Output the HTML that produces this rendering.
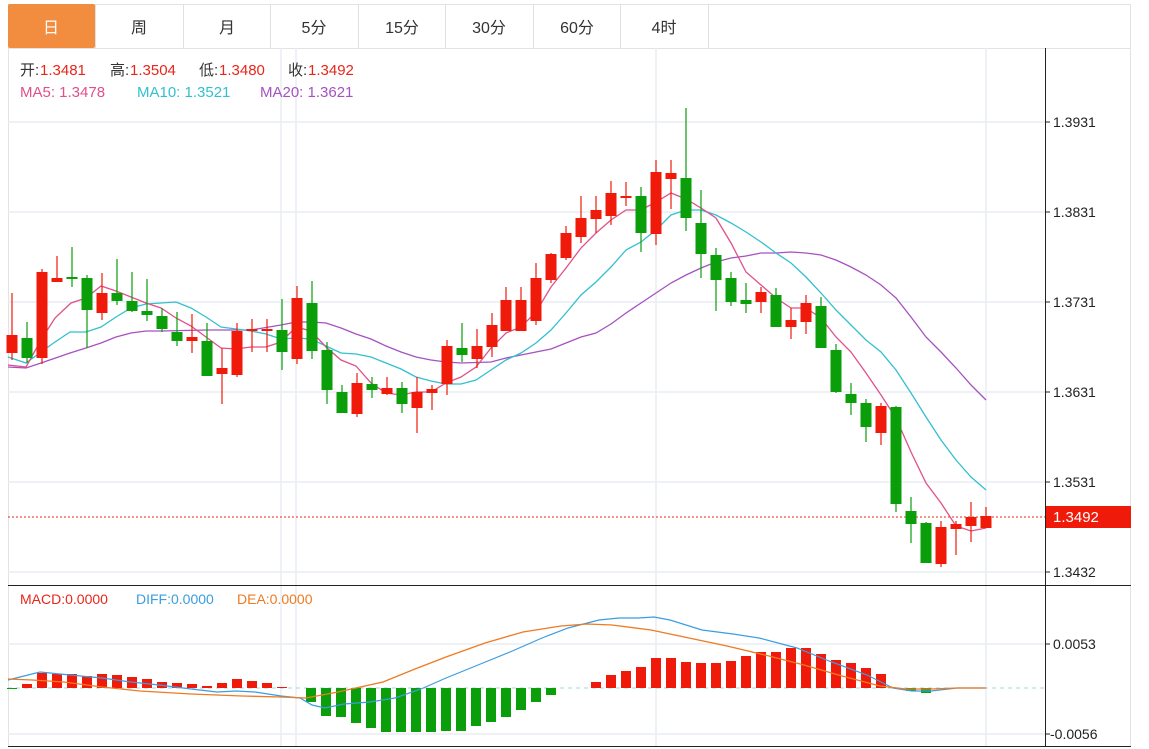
<!DOCTYPE html>
<html><head><meta charset="utf-8"><style>
html,body{margin:0;padding:0;background:#fff;width:1149px;height:749px;overflow:hidden;font-family:"Liberation Sans","Noto Sans CJK SC",sans-serif}
svg{position:absolute;left:0;top:0}
</style></head><body>
<svg width="1149" height="749" xmlns="http://www.w3.org/2000/svg" font-family="Liberation Sans, Noto Sans CJK SC, sans-serif">
<rect x="8.5" y="4.5" width="1122" height="742" fill="none" stroke="#e3e3e3"/>
<line x1="8" y1="48.5" x2="1131" y2="48.5" stroke="#e3e3e3"/>
<rect x="8" y="4" width="87" height="44" fill="#f28c3f" rx="2"/>
<g stroke="#e0e0e0"><line x1="95.5" y1="4" x2="95.5" y2="48"/><line x1="183.5" y1="4" x2="183.5" y2="48"/><line x1="270.5" y1="4" x2="270.5" y2="48"/><line x1="358.5" y1="4" x2="358.5" y2="48"/><line x1="445.5" y1="4" x2="445.5" y2="48"/><line x1="533.5" y1="4" x2="533.5" y2="48"/><line x1="620.5" y1="4" x2="620.5" y2="48"/><line x1="708.5" y1="4" x2="708.5" y2="48"/></g>
<g font-size="16" text-anchor="middle" fill="#333">
<text x="51" y="33" fill="#fff">日</text><text x="139" y="33">周</text><text x="227" y="33">月</text><text x="314" y="33">5分</text><text x="402" y="33">15分</text><text x="489" y="33">30分</text><text x="577" y="33">60分</text><text x="664" y="33">4时</text>
</g>
<g stroke="#e8eef4" stroke-width="1.5">
<line x1="8" y1="122" x2="1045" y2="122"/><line x1="8" y1="212" x2="1045" y2="212"/><line x1="8" y1="302" x2="1045" y2="302"/><line x1="8" y1="392" x2="1045" y2="392"/><line x1="8" y1="482" x2="1045" y2="482"/><line x1="8" y1="572" x2="1045" y2="572"/>
<line x1="8" y1="644" x2="1045" y2="644"/><line x1="8" y1="734" x2="1045" y2="734"/>
<line x1="281" y1="48" x2="281" y2="746"/><line x1="296" y1="48" x2="296" y2="746"/><line x1="656" y1="48" x2="656" y2="746"/><line x1="986" y1="48" x2="986" y2="746"/>
</g>
<line x1="1045.5" y1="48" x2="1045.5" y2="746" stroke="#222"/>
<line x1="8" y1="585.5" x2="1131" y2="585.5" stroke="#222"/>
<line x1="8" y1="746.5" x2="1131" y2="746.5" stroke="#222"/>
<g stroke="#222"><line x1="1045" y1="122" x2="1050" y2="122"/><line x1="1045" y1="212" x2="1050" y2="212"/><line x1="1045" y1="302" x2="1050" y2="302"/><line x1="1045" y1="392" x2="1050" y2="392"/><line x1="1045" y1="482" x2="1050" y2="482"/><line x1="1045" y1="572" x2="1050" y2="572"/><line x1="1045" y1="644" x2="1050" y2="644"/><line x1="1045" y1="734" x2="1050" y2="734"/></g>
<g font-size="14" fill="#222">
<text x="1053" y="127">1.3931</text><text x="1053" y="217">1.3831</text><text x="1053" y="307">1.3731</text><text x="1053" y="397">1.3631</text><text x="1053" y="487">1.3531</text><text x="1053" y="577">1.3432</text>
<text x="1053" y="649">0.0053</text><text x="1050" y="739">-0.0056</text>
</g>
<line x1="8" y1="517" x2="1045" y2="517" stroke="#e8261a" stroke-dasharray="2,2"/>
<rect x="1046" y="506" width="85" height="22" fill="#f01a0a"/>
<text x="1053" y="522" font-size="15" fill="#fff">1.3492</text>
<g font-size="15">
<text y="75" fill="#333"><tspan x="20">开:</tspan><tspan x="110">高:</tspan><tspan x="199">低:</tspan><tspan x="288">收:</tspan></text>
<text y="75" fill="#e8261a"><tspan x="40">1.3481</tspan><tspan x="130">1.3504</tspan><tspan x="219">1.3480</tspan><tspan x="308">1.3492</tspan></text>
<text y="97"><tspan x="20" fill="#e0508a">MA5: 1.3478</tspan><tspan x="137" fill="#33bfd0">MA10: 1.3521</tspan><tspan x="260" fill="#a552c0">MA20: 1.3621</tspan></text>
</g>
<text y="604" font-size="14"><tspan x="20" fill="#e8261a">MACD:0.0000</tspan><tspan x="136" fill="#3b9de0">DIFF:0.0000</tspan><tspan x="237" fill="#ee7a22">DEA:0.0000</tspan></text>
<polyline fill="none" stroke="#a552c0" stroke-width="1.3" points="8,367 26,368 41,363 70,353 86,348 101,343 116,337 131,333 146,331 161,331 206,330 251,330 281,325 296,322 311,322 326,323 341,328 356,334 371,339 386,346 401,352 416,357 431,360 446,362 461,363 491,362 506,358 521,355 536,352 551,349 566,343 581,337 596,333 611,324 626,313 641,303 656,293 671,283 686,275 701,268 716,262 731,258 746,256 761,253 776,253 791,252 806,253 821,255 836,260 851,267 866,275 881,285 896,298 911,317 926,337 941,352 956,368 971,385 986,400"/>
<polyline fill="none" stroke="#33bfd0" stroke-width="1.3" points="8,357 26,363 41,352 55,342 70,332 86,332 101,327 116,317 131,308 146,304 161,303 176,302 191,308 206,317 221,327 236,329 251,331 266,334 281,339 296,338 311,339 326,346 341,353 356,354 371,357 386,363 401,369 416,377 431,381 446,384 461,384 476,380 491,370 506,360 521,353 536,343 551,330 566,313 581,295 596,282 611,267 626,250 641,242 656,230 671,215 686,210 701,210 716,215 731,223 746,232 761,242 776,253 791,263 806,277 821,293 836,310 851,325 866,340 881,352 896,370 911,393 926,417 941,440 956,460 971,477 986,490"/>
<polyline fill="none" stroke="#e0508a" stroke-width="1.3" points="8,365 26,367 41,340 55,318 71,303 86,298 101,286 116,291 131,297 146,303 161,308 176,318 191,326 206,337 221,348 236,349 251,347 266,347 281,342 296,327 311,331 326,347 341,360 356,366 371,383 386,393 401,395 416,392 431,392 446,383 461,377 476,367 491,348 506,333 521,327 536,312 551,287 566,268 581,248 596,233 611,220 626,210 641,210 656,202 671,193 686,199 701,208 716,218 731,243 746,272 761,285 776,298 791,308 806,308 821,318 836,337 851,352 866,373 881,395 896,418 911,452 926,483 941,503 956,526 971,531 986,528"/>
<g fill="#f01a0a" stroke="#f01a0a">
<path fill="none" stroke-width="1.2" d="M12 293V360M42 269V364M57 256V282M102 273V320M192 314V353M222 348V404M237 323V377M252 319V352M267 319V352M297 286V364M357 373V417M387 377V395M417 377V433M432 385V410M447 340V395M477 329V368M492 313V357M506 287V331M521 287V331M536 263V325M551 253V283M566 226V260M581 196V243M596 196V233M611 181V225M626 182V206M656 160V245M671 160V209M761 287V313M791 308V339M806 295V334M881 403V445M941 521V567M956 521V555M971 502V542M986 507V528"/>
<g stroke="none">
<rect x="6.5" y="335" width="11" height="18"/><rect x="36.5" y="272" width="11" height="86"/><rect x="51.5" y="278" width="11" height="4"/><rect x="96.5" y="293" width="11" height="20"/><rect x="186.5" y="337" width="11" height="4"/><rect x="216.5" y="368" width="11" height="6"/><rect x="231.5" y="331" width="11" height="44"/><rect x="246.5" y="329" width="11" height="2"/><rect x="261.5" y="329" width="11" height="2"/><rect x="291.5" y="298" width="11" height="61"/><rect x="351.5" y="383" width="11" height="31"/><rect x="381.5" y="388" width="11" height="6"/><rect x="411.5" y="392" width="11" height="16"/><rect x="426.5" y="389" width="11" height="4"/><rect x="441.5" y="346" width="11" height="38"/><rect x="471.5" y="346" width="11" height="13"/><rect x="486.5" y="325" width="11" height="22"/><rect x="500.5" y="300" width="11" height="31"/><rect x="515.5" y="300" width="11" height="31"/><rect x="530.5" y="278" width="11" height="43"/><rect x="545.5" y="254" width="11" height="26"/><rect x="560.5" y="233" width="11" height="25"/><rect x="575.5" y="218" width="11" height="19"/><rect x="590.5" y="210" width="11" height="9"/><rect x="605.5" y="193" width="11" height="23"/><rect x="620.5" y="196" width="11" height="2"/><rect x="650.5" y="172" width="11" height="62"/><rect x="665.5" y="173" width="11" height="6"/><rect x="755.5" y="292" width="11" height="10"/><rect x="785.5" y="320" width="11" height="7"/><rect x="800.5" y="303" width="11" height="19"/><rect x="875.5" y="406" width="11" height="27"/><rect x="935.5" y="527" width="11" height="37"/><rect x="950.5" y="524" width="11" height="5"/><rect x="965.5" y="517" width="11" height="9"/><rect x="980.5" y="516" width="11" height="12"/>
</g></g>
<g fill="#0a9e0a" stroke="#0a9e0a">
<path fill="none" stroke-width="1.2" d="M27 322V363M72 247V287M87 275V348M117 259V305M132 272V312M147 279V321M162 308V332M177 312V346M207 323V376M282 299V370M312 281V359M327 342V404M342 385V413M372 377V398M402 382V413M462 323V362M641 187V252M686 108V231M701 190V278M716 248V311M731 272V306M746 283V313M776 288V327M821 297V348M836 344V393M851 383V415M866 399V442M896 406V512M911 497V543M926 522V563"/>
<g stroke="none">
<rect x="21.5" y="338" width="11" height="20"/><rect x="66.5" y="277" width="11" height="2"/><rect x="81.5" y="278" width="11" height="32"/><rect x="111.5" y="293" width="11" height="8"/><rect x="126.5" y="301" width="11" height="10"/><rect x="141.5" y="311" width="11" height="4"/><rect x="156.5" y="316" width="11" height="13"/><rect x="171.5" y="332" width="11" height="9"/><rect x="201.5" y="341" width="11" height="35"/><rect x="276.5" y="330" width="11" height="22"/><rect x="306.5" y="303" width="11" height="48"/><rect x="321.5" y="350" width="11" height="40"/><rect x="336.5" y="392" width="11" height="21"/><rect x="366.5" y="384" width="11" height="6"/><rect x="396.5" y="388" width="11" height="16"/><rect x="456.5" y="348" width="11" height="7"/><rect x="635.5" y="196" width="11" height="37"/><rect x="680.5" y="178" width="11" height="40"/><rect x="695.5" y="223" width="11" height="31"/><rect x="710.5" y="255" width="11" height="25"/><rect x="725.5" y="278" width="11" height="24"/><rect x="740.5" y="300" width="11" height="4"/><rect x="770.5" y="295" width="11" height="32"/><rect x="815.5" y="306" width="11" height="42"/><rect x="830.5" y="350" width="11" height="42"/><rect x="845.5" y="394" width="11" height="9"/><rect x="860.5" y="403" width="11" height="24"/><rect x="890.5" y="407" width="11" height="97"/><rect x="905.5" y="511" width="11" height="13"/><rect x="920.5" y="523" width="11" height="40"/>
</g></g>
<line x1="8" y1="688" x2="1045" y2="688" stroke="#9fd7e0" stroke-dasharray="4,4"/>
<g fill="#f01a0a">
<rect x="22" y="684" width="10" height="4"/><rect x="37" y="673" width="10" height="15"/><rect x="52" y="674" width="10" height="14"/><rect x="67" y="674" width="10" height="14"/><rect x="82" y="676" width="10" height="12"/><rect x="97" y="674" width="10" height="14"/><rect x="112" y="675" width="10" height="13"/><rect x="127" y="677" width="10" height="11"/><rect x="142" y="679" width="10" height="9"/><rect x="157" y="682" width="10" height="6"/><rect x="172" y="683" width="10" height="5"/><rect x="187" y="684" width="10" height="4"/><rect x="202" y="686" width="10" height="2"/><rect x="217" y="683" width="10" height="5"/><rect x="232" y="679" width="10" height="9"/><rect x="247" y="681" width="10" height="7"/><rect x="262" y="683" width="10" height="5"/><rect x="277" y="687" width="10" height="1"/>
<rect x="591" y="682" width="10" height="6"/><rect x="606" y="675" width="10" height="13"/><rect x="621" y="671" width="10" height="17"/><rect x="636" y="667" width="10" height="21"/><rect x="651" y="658" width="10" height="30"/><rect x="666" y="658" width="10" height="30"/><rect x="681" y="662" width="10" height="26"/><rect x="696" y="663" width="10" height="25"/><rect x="711" y="663" width="10" height="25"/><rect x="726" y="661" width="10" height="27"/><rect x="741" y="656" width="10" height="32"/><rect x="756" y="652" width="10" height="36"/><rect x="771" y="652" width="10" height="36"/><rect x="786" y="648" width="10" height="40"/><rect x="801" y="648" width="10" height="40"/><rect x="816" y="654" width="10" height="34"/><rect x="831" y="660" width="10" height="28"/><rect x="846" y="663" width="10" height="25"/><rect x="861" y="668" width="10" height="20"/><rect x="876" y="674" width="10" height="14"/>
</g>
<g fill="#0a9e0a">
<rect x="7" y="688" width="10" height="1"/>
<rect x="306" y="688" width="10" height="14"/><rect x="321" y="688" width="10" height="28"/><rect x="336" y="688" width="10" height="29"/><rect x="351" y="688" width="10" height="35"/><rect x="366" y="688" width="10" height="40"/><rect x="381" y="688" width="10" height="44"/><rect x="396" y="688" width="10" height="44"/><rect x="411" y="688" width="10" height="44"/><rect x="426" y="688" width="10" height="44"/><rect x="441" y="688" width="10" height="43"/><rect x="456" y="688" width="10" height="43"/><rect x="471" y="688" width="10" height="38"/><rect x="486" y="688" width="10" height="34"/><rect x="501" y="688" width="10" height="29"/><rect x="516" y="688" width="10" height="22"/><rect x="531" y="688" width="10" height="14"/><rect x="546" y="688" width="10" height="7"/>
<rect x="906" y="688" width="10" height="3"/><rect x="921" y="688" width="10" height="5"/>
</g>
<polyline fill="none" stroke="#3b9de0" stroke-width="1.2" points="8,680 40,672 70,675 102,678 131,682 159,685 191,689 217,692 236,691 255,692 281,696 300,698 312,705 325,708 344,704 370,702 395,698 421,689 446,678 478,665 510,652 542,638 568,628 599,620 619,618 638,618 654,617 670,620 702,630 733,634 759,638 797,648 829,661 867,675 893,688 912,691 931,691 957,688 986,688"/>
<polyline fill="none" stroke="#ee7a22" stroke-width="1.3" points="8,679 32,680 64,682 102,687 140,691 191,694 242,696 281,697 306,698 338,692 383,682 415,669 446,657 485,643 523,632 561,626 587,624 612,625 651,630 689,638 727,646 765,655 804,665 842,676 880,686 906,689 931,689 957,688 986,688"/>
</svg>
</body></html>
